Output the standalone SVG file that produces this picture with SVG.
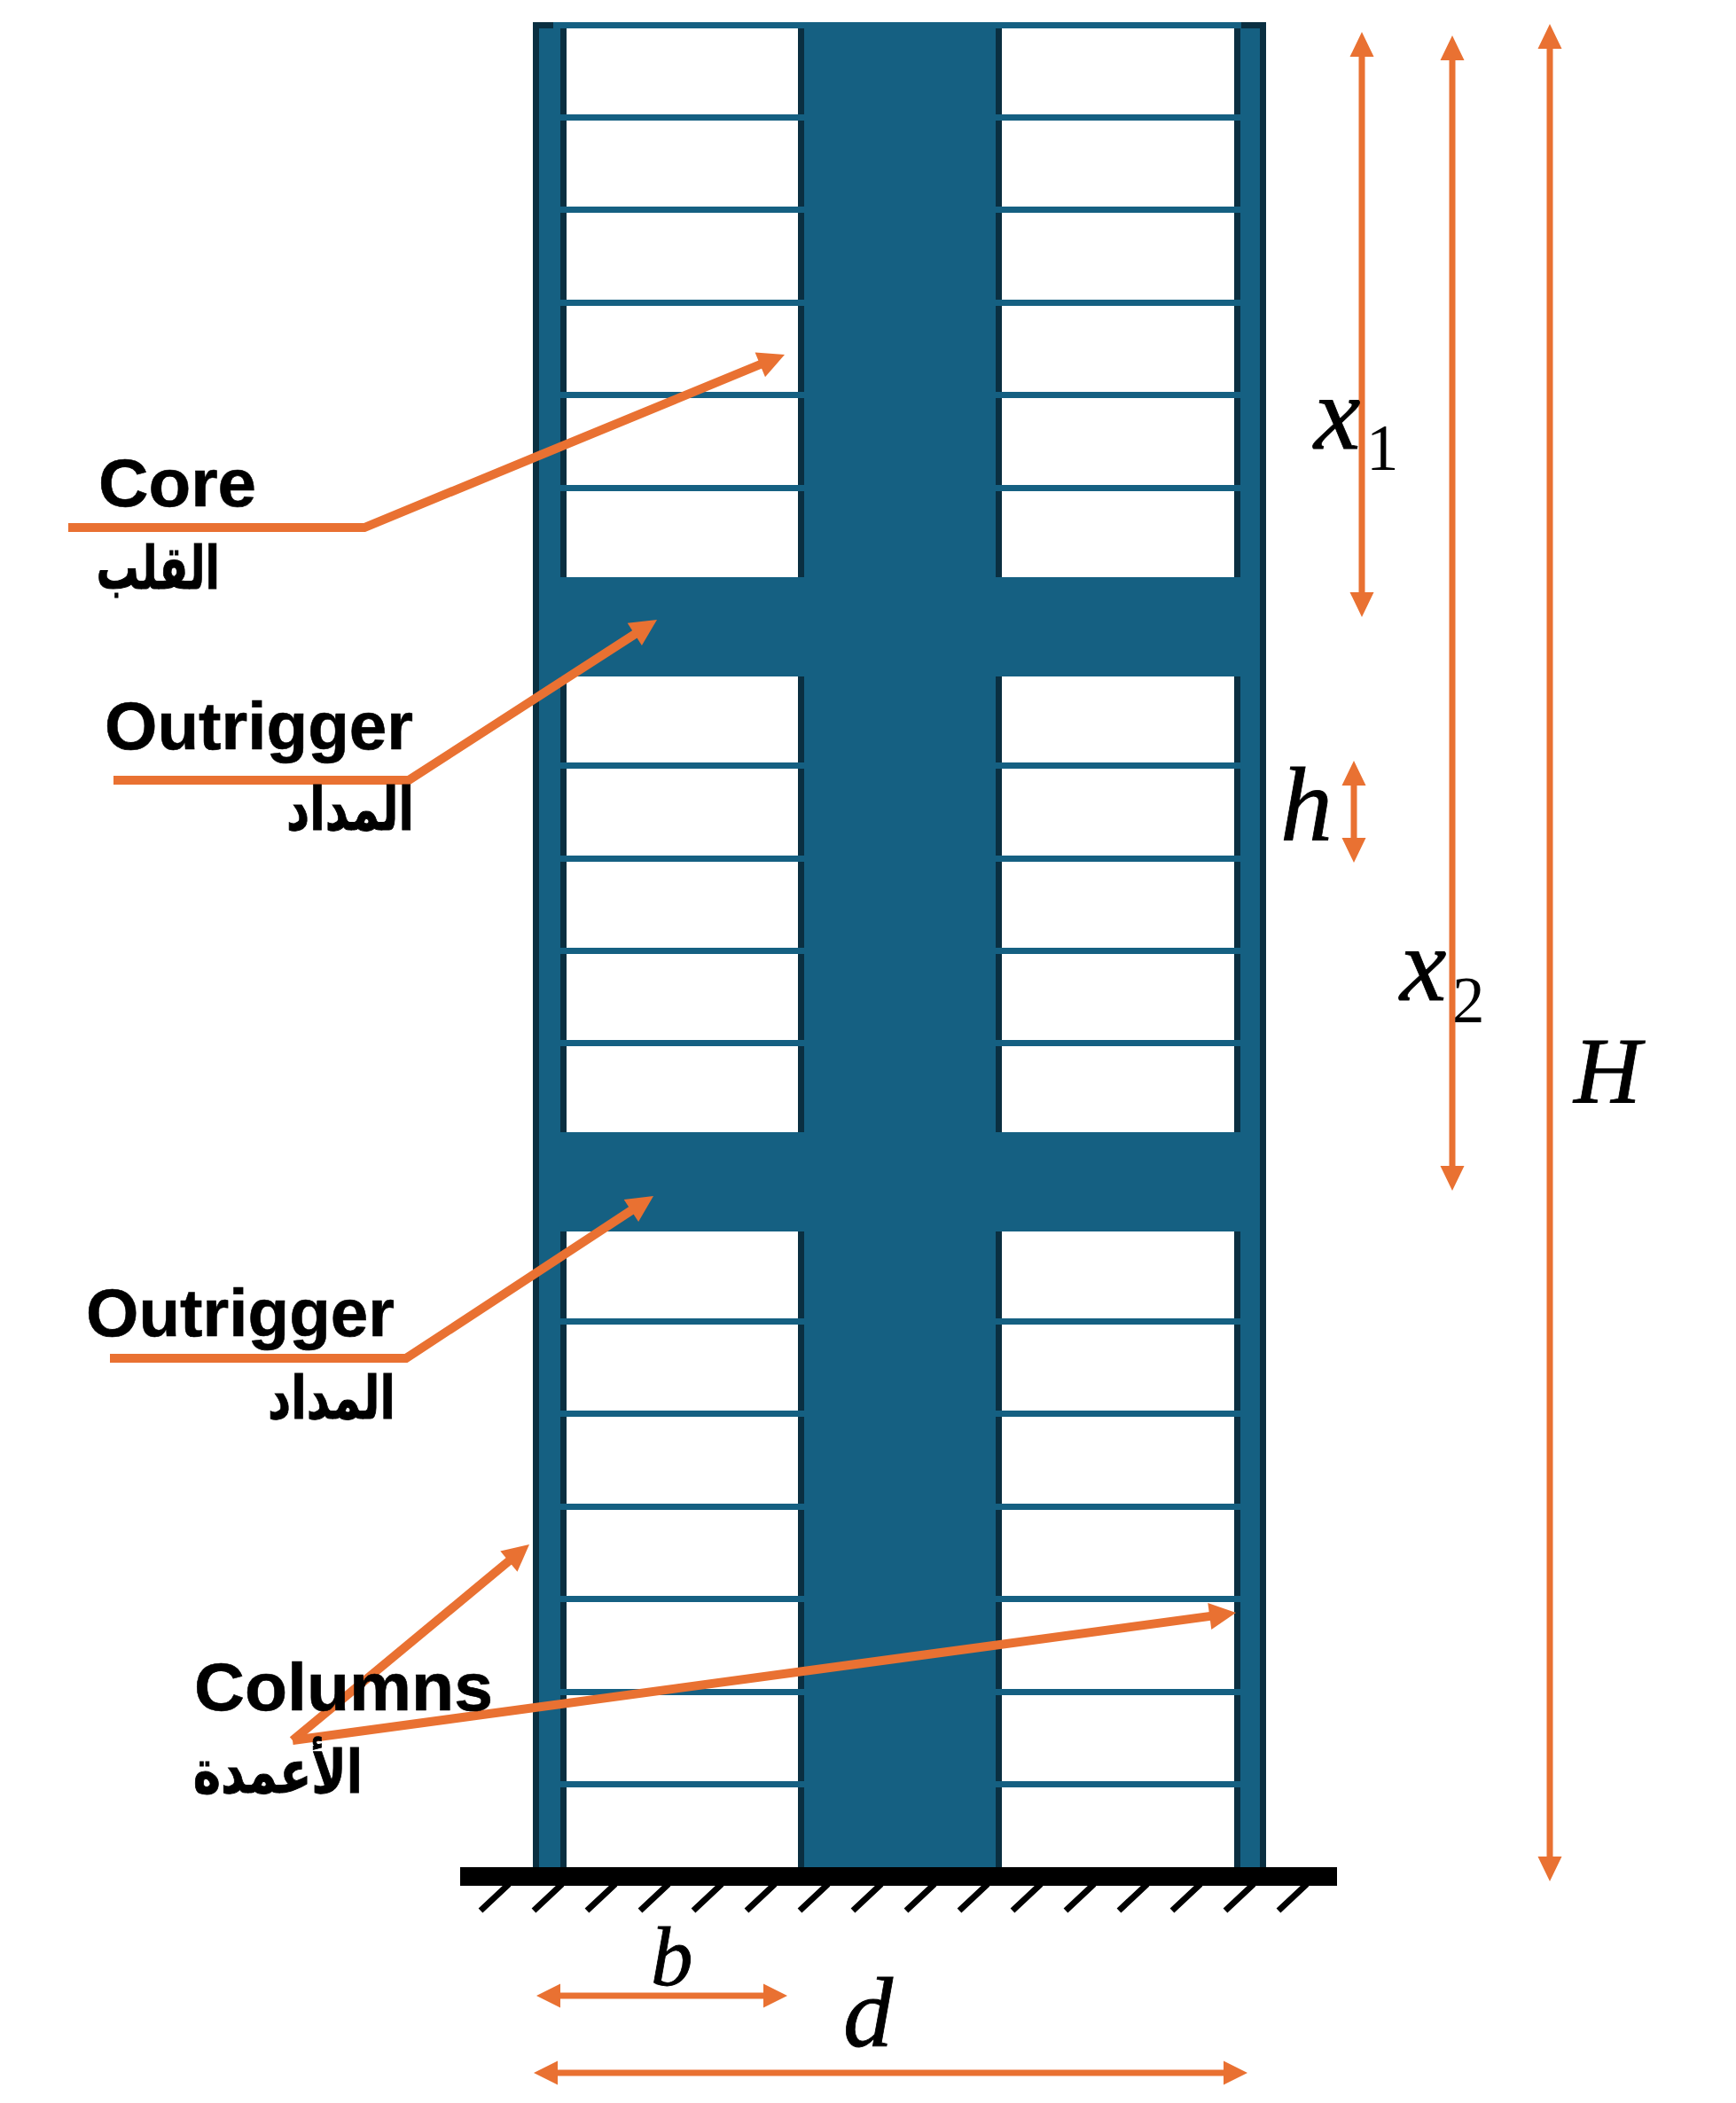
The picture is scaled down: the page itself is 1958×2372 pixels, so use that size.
<svg xmlns="http://www.w3.org/2000/svg" width="1958" height="2372" viewBox="0 0 1958 2372">
<style>
.blue{fill:#156082}.dark{fill:#0a2f41}.blk{fill:#000}
.or{stroke:#e97132;stroke-width:10;fill:none}
.od{stroke:#e97132;stroke-width:7;fill:none}
.oh{fill:#e97132}
.hatch{stroke:#000;stroke-width:7}
.lbl{font-family:"Liberation Sans",Arial,sans-serif;font-weight:700;font-size:76px;fill:#000;stroke:#000;stroke-width:.6}
.ar{font-family:"DejaVu Sans",sans-serif;font-weight:700;font-size:50px;fill:#000;stroke:#000;stroke-width:.7;direction:rtl}
.m{font-family:"Liberation Serif",serif;font-style:italic;fill:#000;stroke:#000;stroke-width:.8}
.s{font-family:"Liberation Serif",serif;fill:#000;font-size:73px}
</style>
<rect width="1958" height="2372" fill="#fff"/>
<g id="tower">
<rect class="dark" x="601" y="25" width="38" height="2081"/>
<rect class="dark" x="1392" y="25" width="36" height="2081"/>
<rect class="dark" x="900" y="25" width="230" height="2081"/>
<rect class="blue" x="608" y="32" width="24" height="2074"/>
<rect class="blue" x="1399" y="32" width="22" height="2074"/>
<rect class="blue" x="907" y="25" width="216" height="2081"/>
<rect class="blue" x="624" y="25" width="776" height="7"/>
<g id="floors-left" class="blue">
<rect x="632" y="129" width="275" height="7"/><rect x="632" y="233" width="275" height="7"/><rect x="632" y="338" width="275" height="7"/><rect x="632" y="442" width="275" height="7"/><rect x="632" y="547" width="275" height="7"/>
<rect x="632" y="860" width="275" height="7"/><rect x="632" y="965" width="275" height="7"/><rect x="632" y="1069" width="275" height="7"/><rect x="632" y="1173" width="275" height="7"/>
<rect x="632" y="1487" width="275" height="7"/><rect x="632" y="1591" width="275" height="7"/><rect x="632" y="1696" width="275" height="7"/><rect x="632" y="1800" width="275" height="7"/><rect x="632" y="1905" width="275" height="7"/><rect x="632" y="2009" width="275" height="7"/>
</g>
<g id="floors-right" class="blue">
<rect x="1123" y="129" width="276" height="7"/><rect x="1123" y="233" width="276" height="7"/><rect x="1123" y="338" width="276" height="7"/><rect x="1123" y="442" width="276" height="7"/><rect x="1123" y="547" width="276" height="7"/>
<rect x="1123" y="860" width="276" height="7"/><rect x="1123" y="965" width="276" height="7"/><rect x="1123" y="1069" width="276" height="7"/><rect x="1123" y="1173" width="276" height="7"/>
<rect x="1123" y="1487" width="276" height="7"/><rect x="1123" y="1591" width="276" height="7"/><rect x="1123" y="1696" width="276" height="7"/><rect x="1123" y="1800" width="276" height="7"/><rect x="1123" y="1905" width="276" height="7"/><rect x="1123" y="2009" width="276" height="7"/>
</g>
<rect class="blue" x="608" y="651" width="813" height="112"/>
<rect class="blue" x="608" y="1277" width="813" height="112"/>
</g>
<g id="base">
<rect class="blk" x="519" y="2106" width="989" height="21"/>
<g class="hatch">
<path d="M542 2155L574 2125M602 2155L634 2125M662 2155L694 2125M722 2155L754 2125M782 2155L814 2125M842 2155L874 2125M902 2155L934 2125M962 2155L994 2125M1022 2155L1054 2125M1082 2155L1114 2125M1142 2155L1174 2125M1202 2155L1234 2125M1262 2155L1294 2125M1322 2155L1354 2125M1382 2155L1414 2125M1442 2155L1474 2125"/>
</g>
</g>
<g id="connectors">
<path class="or" d="M77 595H411L860 410"/><path class="oh" d="M885 400L851.6 397.5L863 425.3Z"/>
<path class="or" d="M128 880H461L718 714"/><path class="oh" d="M741 699L707.7 702.7L723.9 727.9Z"/>
<path class="or" d="M124 1532H458L714 1364"/><path class="oh" d="M737 1349L703.7 1352.9L720.1 1377.9Z"/>
<path class="or" d="M330 1963L576 1759"/><path class="oh" d="M597 1742L564.3 1749.5L583.5 1772.7Z"/>
<path class="or" d="M330 1963L1367 1822.6"/><path class="oh" d="M1394 1819L1362.3 1808.1L1366.3 1837.9Z"/>
<path class="od" d="M1536 60V675"/><path class="oh" d="M1536 36L1522.5 64H1549.5ZM1536 696L1522.5 668H1549.5Z"/>
<path class="od" d="M1638 60V1322"/><path class="oh" d="M1638 40L1624.5 68H1651.5ZM1638 1343L1624.5 1315H1651.5Z"/>
<path class="od" d="M1748 45V2104"/><path class="oh" d="M1748 27L1734.5 55H1761.5ZM1748 2122L1734.5 2094H1761.5Z"/>
<path class="od" d="M1527 875V955"/><path class="oh" d="M1527 858L1513.5 886H1540.5ZM1527 973L1513.5 945H1540.5Z"/>
<path class="od" d="M625 2251H868"/><path class="oh" d="M605 2251L632 2237.5V2264.5ZM888 2251L861 2237.5V2264.5Z"/>
<path class="od" d="M622 2338H1390"/><path class="oh" d="M602 2338L629 2324.5V2351.5ZM1407 2338L1380 2324.5V2351.5Z"/>
</g>
<g id="label-core"><text class="lbl" x="111" y="571" textLength="178" lengthAdjust="spacingAndGlyphs">Core</text><text class="ar" transform="translate(248 664) scale(.96 1.35)">القلب</text></g>
<g id="label-outrigger-1"><text class="lbl" x="118" y="845" textLength="348" lengthAdjust="spacingAndGlyphs">Outrigger</text><text class="ar" transform="translate(467 936) scale(1.02 1.35)">المداد</text></g>
<g id="label-outrigger-2"><text class="lbl" x="97" y="1507" textLength="348" lengthAdjust="spacingAndGlyphs">Outrigger</text><text class="ar" transform="translate(446 1600) scale(1.02 1.35)">المداد</text></g>
<g id="label-columns"><text class="lbl" x="219" y="1929" textLength="337" lengthAdjust="spacingAndGlyphs">Columns</text><text class="ar" transform="translate(409 2022) scale(1.06 1.35)">الأعمدة</text></g>
<g id="math">
<text class="m" font-size="118" x="1482" y="506">x</text><text class="s" x="1541" y="530">1</text>
<text class="m" font-size="118" x="1579" y="1128">x</text><text class="s" x="1638" y="1153">2</text>
<text class="m" font-size="118" x="1444" y="947">h</text>
<text class="m" font-size="105" x="1775" y="1243">H</text>
<text class="m" font-size="95" x="734" y="2239">b</text>
<text class="m" font-size="112" x="951" y="2308">d</text>
</g>
</svg>
